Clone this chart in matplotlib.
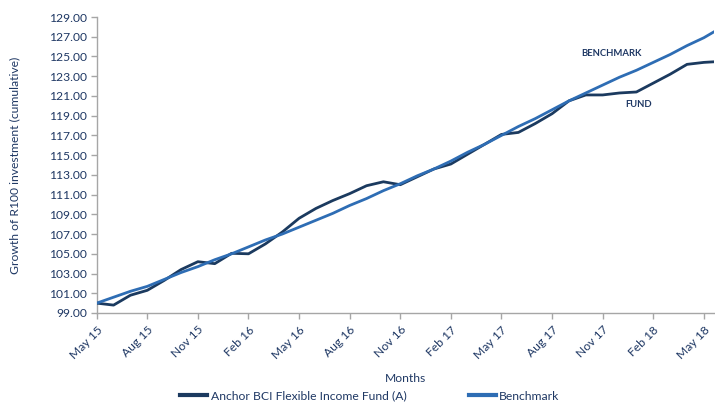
import matplotlib
matplotlib.use("Agg")
import matplotlib.pyplot as plt

months = ["May 15", "Jun 15", "Jul 15", "Aug 15", "Sep 15", "Oct 15", "Nov 15", "Dec 15",
          "Jan 16", "Feb 16", "Mar 16", "Apr 16", "May 16", "Jun 16", "Jul 16", "Aug 16",
          "Sep 16", "Oct 16", "Nov 16", "Dec 16", "Jan 17", "Feb 17", "Mar 17", "Apr 17",
          "May 17", "Jun 17", "Jul 17", "Aug 17", "Sep 17", "Oct 17", "Nov 17", "Dec 17",
          "Jan 18", "Feb 18", "Mar 18", "Apr 18", "May 18", "Jun 18"]

fund = [100.0, 99.8, 100.8, 101.3, 102.3, 103.4, 104.2, 104.0,
        105.05, 105.0, 106.0, 107.2, 108.6, 109.6, 110.4, 111.1,
        111.9, 112.3, 112.0, 112.8, 113.6, 114.1, 115.1, 116.1,
        117.1, 117.3, 118.2, 119.2, 120.5, 121.1, 121.1, 121.3,
        121.4, 122.3, 123.2, 124.2, 124.4, 124.5]

benchmark = [100.0, 100.6, 101.2, 101.7, 102.4, 103.1, 103.7, 104.4,
             105.0, 105.7, 106.4, 107.0, 107.7, 108.4, 109.1, 109.9,
             110.6, 111.4, 112.1, 112.9, 113.6, 114.4, 115.3, 116.1,
             117.0, 117.9, 118.7, 119.6, 120.5, 121.3, 122.1, 122.9,
             123.6, 124.4, 125.2, 126.1, 126.9, 127.9]

tick_labels = months[::3]
yticks = list(range(99, 130, 2))

navy = "#1F3864"
fund_color = "#1B3A5F"
bench_color = "#2E6DB4"
spine_color = "#A6A6A6"

plt.rcParams['font.family'] = ['Lato', 'DejaVu Sans']

fig = plt.figure(figsize=(7.15, 4.03), dpi=100)
ax = fig.add_axes([96.7/715, 1 - 313/403, (714 - 96.7)/715, (313 - 17)/403])

x = list(range(len(months)))
ax.plot(x, fund, color=fund_color, lw=2.0, label="Anchor BCI Flexible Income Fund (A)", zorder=3)
ax.plot(x, benchmark, color=bench_color, lw=2.0, label="Benchmark", zorder=4)

ax.set_xlim(0, 36.6)
ax.set_ylim(99, 129)
ax.set_yticks(yticks)
ax.set_yticklabels([f"{v:.2f}" for v in yticks], color=navy, fontsize=8.7)
ax.set_xticks(list(range(0, len(months), 3)))
ax.set_xticklabels(tick_labels, rotation=45, ha="right", va="top",
                   rotation_mode="anchor", color=navy, fontsize=8.7)

for side in ["top", "right"]:
    ax.spines[side].set_visible(False)
for side in ["left", "bottom"]:
    ax.spines[side].set_color(spine_color)
    ax.spines[side].set_linewidth(1.0)
ax.tick_params(axis="both", color=spine_color, length=4, width=1.0, direction="out")
ax.tick_params(axis="y", pad=3)
ax.tick_params(axis="x", pad=4)

ax.set_ylabel("Growth of R100 investment (cumulative)", color=navy, fontsize=8.7, labelpad=21)
ax.set_xlabel("Months", color=navy, fontsize=8.7, labelpad=9)

ax.text(30.5, 125.3, "BENCHMARK", color=navy, fontsize=6.8, fontweight="bold",
        ha="center", va="center")
ax.text(32.1, 120.1, "FUND", color=navy, fontsize=6.8, fontweight="bold",
        ha="center", va="center")

leg = fig.legend(loc="center", bbox_to_anchor=(370/715, 1 - 396/403), ncol=2, frameon=False,
                 fontsize=8.7, handlelength=2.2, handletextpad=0.3, columnspacing=5.2,
                 labelcolor=navy)
for line in leg.get_lines():
    line.set_linewidth(3.0)

fig.savefig("out.png", dpi=100)
